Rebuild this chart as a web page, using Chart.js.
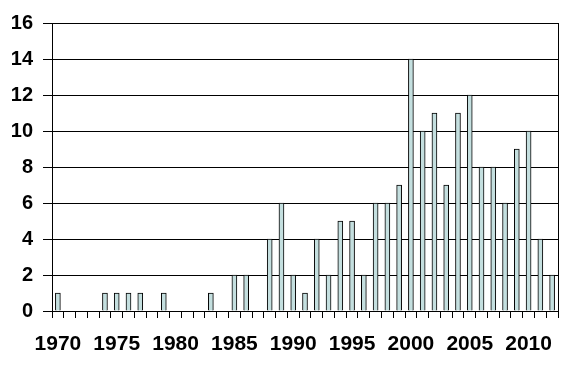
<!DOCTYPE html>
<html>
<head>
<meta charset="utf-8">
<script src="https://cdn.jsdelivr.net/npm/chart.js@4/dist/chart.umd.min.js"></script>
<style>
  html, body { margin: 0; padding: 0; background: #fff; }
  #wrap { width: 569px; height: 370px; }
</style>
</head>
<body>
<div id="wrap"><canvas id="chart"></canvas></div>
<script>
const years = [
  1970, 1971, 1972, 1973, 1974, 1975, 1976, 1977, 1978, 1979,
  1980, 1981, 1982, 1983, 1984, 1985, 1986, 1987, 1988, 1989,
  1990, 1991, 1992, 1993, 1994, 1995, 1996, 1997, 1998, 1999,
  2000, 2001, 2002, 2003, 2004, 2005, 2006, 2007, 2008, 2009,
  2010, 2011, 2012
];
const counts = [
  1, 0, 0, 0, 1, 1, 1, 1, 0, 1,
  0, 0, 0, 1, 0, 2, 2, 0, 4, 6,
  2, 1, 4, 2, 5, 5, 2, 6, 6, 7,
  14, 10, 11, 7, 11, 12, 8, 8, 6, 9,
  10, 4, 2
];
const yMax = 16;
const yStep = 2;

const FONT = "'Liberation Sans', Arial, sans-serif";

new Chart(document.getElementById('chart'), {
  type: 'bar',
  data: {
    labels: years.map(String),
    datasets: [{
      data: counts,
      backgroundColor: '#c4dfdf',
      borderColor: '#000',
      borderWidth: 1,
      barThickness: 5
    }]
  },
  options: {
    responsive: true,
    maintainAspectRatio: false,
    animation: false,
    layout: { padding: { top: 23, right: 11, left: 0, bottom: 0 } },
    plugins: {
      legend: { display: false },
      tooltip: { enabled: false }
    },
    scales: {
      x: {
        offset: true,
        grid: {
          offset: true,
          drawOnChartArea: false,
          color: '#000',
          tickLength: 7
        },
        border: { display: true, color: '#000', width: 1 },
        ticks: {
          autoSkip: false,
          maxRotation: 0,
          padding: 14,
          color: '#000',
          font: { family: FONT, size: 21, weight: 'bold' },
          callback: (value, idx) => (years[idx] % 5 === 0 ? String(years[idx]) : '')
        },
        afterFit: (scale) => { scale.height = 59; }
      },
      y: {
        min: 0,
        max: yMax,
        ticks: {
          stepSize: yStep,
          padding: 10,
          color: '#000',
          font: { family: FONT, size: 20, weight: 'bold' }
        },
        grid: { color: '#000', tickLength: 9, lineWidth: 1 },
        border: { display: true, color: '#000', width: 1 },
        afterFit: (scale) => { scale.width = 52; }
      },
      right: {
        position: 'right',
        min: 0,
        max: yMax,
        ticks: { display: false },
        grid: { display: false },
        border: { display: true, color: '#000', width: 1 },
        afterFit: (scale) => { scale.width = 0; }
      }
    }
  }
});
</script>
</body>
</html>
